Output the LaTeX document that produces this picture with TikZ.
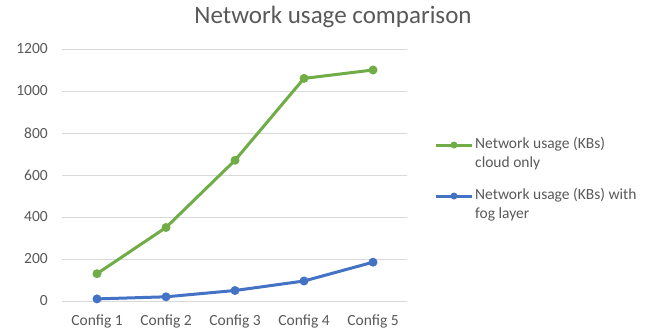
\documentclass[tikz,border=0pt]{standalone}
\usepackage{fontspec}
\setmainfont{Carlito}
\definecolor{txtgray}{HTML}{595959}
\definecolor{gridgray}{HTML}{D9D9D9}
\definecolor{sergreen}{HTML}{70AD47}
\definecolor{serblue}{HTML}{4472C4}
\begin{document}
\begin{tikzpicture}[x=1pt,y=-1pt,
  lbl/.style={text=txtgray,font=\fontsize{15.5}{19}\selectfont,inner sep=0pt},
  ylbl/.style={lbl,anchor=east},
  xlbl/.style={lbl,anchor=center},
  gridline/.style={draw=gridgray,line width=1pt},
  gline/.style={draw=sergreen,line width=3pt,line join=round,line cap=round},
  bline/.style={draw=serblue,line width=3pt,line join=round,line cap=round},
  gdot/.style={circle,fill=sergreen,inner sep=0pt,minimum size=9pt},
  bdot/.style={circle,fill=serblue,inner sep=0pt,minimum size=9pt},
  legtxt/.style={lbl,anchor=west,align=left}]
\useasboundingbox[fill=white] (0,0) rectangle (668,335);
% title
\node[text=txtgray,font=\fontsize{25}{30}\selectfont,inner sep=0pt] (title) at (333,17) {Network usage comparison};
% grid and y labels
\foreach \v/\yy in {0/301,200/259,400/217,600/175,800/133,1000/91,1200/49}{
  \coordinate (gl\v) at (62,\yy);
  \coordinate (gr\v) at (407,\yy);
  \draw[gridline] (gl\v) -- (gr\v);
  \node[ylbl] (yl\v) at (48,\yy) {\v};
}
% x labels
\foreach \i/\xx in {1/97,2/166,3/235,4/304,5/373}{
  \node[xlbl] (xl\i) at (\xx,321) {Config \i};
}
% green series (cloud only)
\node[gdot] (g1) at (97,273.7) {};
\node[gdot] (g2) at (166,227.5) {};
\node[gdot] (g3) at (235,160.3) {};
\node[gdot] (g4) at (304,78.4) {};
\node[gdot] (g5) at (373,70) {};
\draw[gline] (g1.center) -- (g2.center) -- (g3.center) -- (g4.center) -- (g5.center);
% blue series (fog layer)
\node[bdot] (b1) at (97,298.9) {};
\node[bdot] (b2) at (166,296.8) {};
\node[bdot] (b3) at (235,290.5) {};
\node[bdot] (b4) at (304,281) {};
\node[bdot] (b5) at (373,262.2) {};
\draw[bline] (b1.center) -- (b2.center) -- (b3.center) -- (b4.center) -- (b5.center);
% legend
\coordinate (lg1a) at (436,145);
\coordinate (lg1b) at (472,145);
\node[gdot,minimum size=7pt] (lg1d) at (454,145) {};
\draw[gline,line cap=butt] (lg1a) -- (lg1b);
\node[legtxt] (lt1) at (475,154) {Network usage (KBs)\\cloud only};
\coordinate (lg2a) at (436,196);
\coordinate (lg2b) at (472,196);
\node[bdot,minimum size=7pt] (lg2d) at (454,196) {};
\draw[bline,line cap=butt] (lg2a) -- (lg2b);
\node[legtxt] (lt2) at (475,205) {Network usage (KBs) with\\fog layer};
\end{tikzpicture}
\end{document}
